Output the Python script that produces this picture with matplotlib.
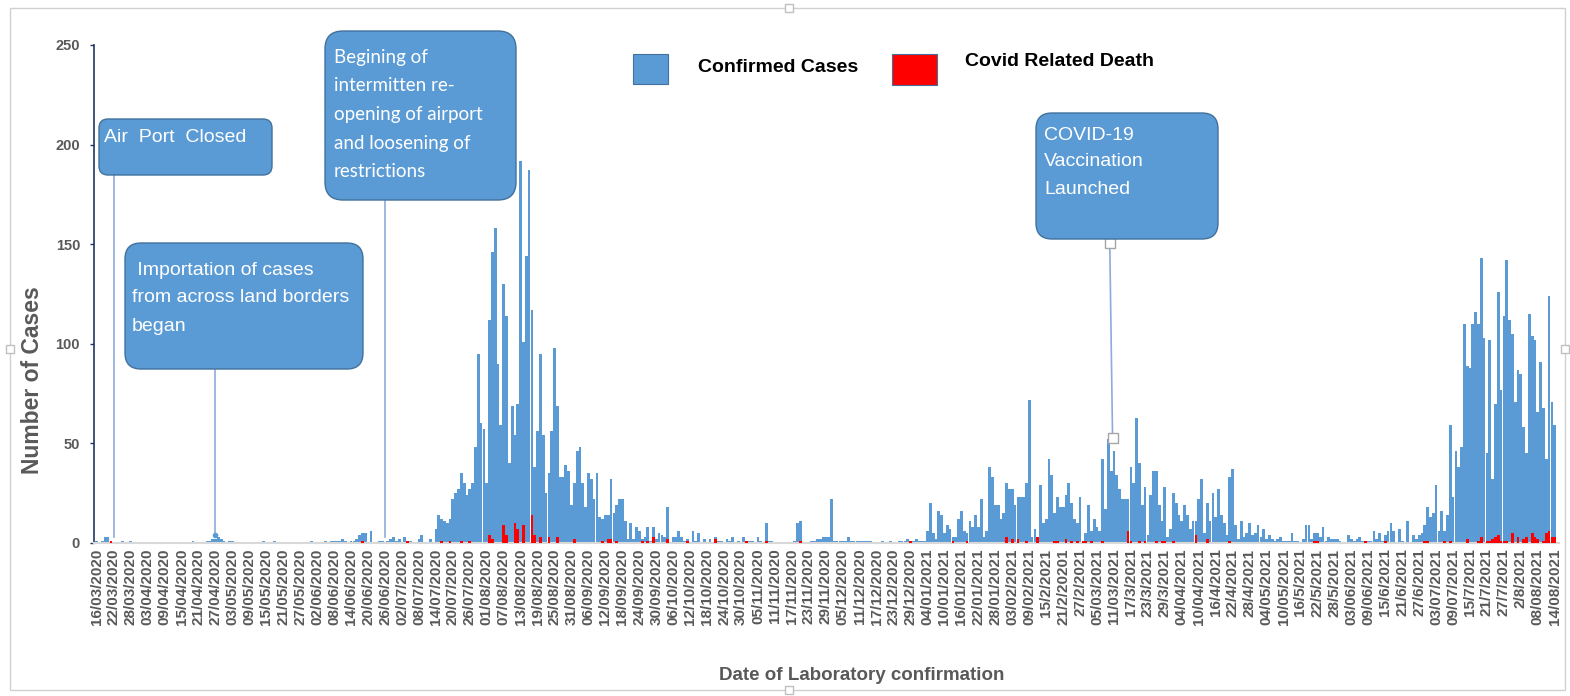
# plot.py
# Daily confirmed COVID-19 cases and related deaths, 16/03/2020 - 14/08/2021

import matplotlib.pyplot as plt
from matplotlib.patches import FancyBboxPatch, Rectangle
import numpy as np

# one label every 6 days, written as in the source chart
tick_labels = [
    '16/03/2020', '22/03/2020', '28/03/2020', '03/04/2020', '09/04/2020', '15/04/2020',
    '21/04/2020', '27/04/2020', '03/05/2020', '09/05/2020', '15/05/2020', '21/05/2020',
    '27/05/2020', '02/06/2020', '08/06/2020', '14/06/2020', '20/06/2020', '26/06/2020',
    '02/07/2020', '08/07/2020', '14/07/2020', '20/07/2020', '26/07/2020', '01/08/2020',
    '07/08/2020', '13/08/2020', '19/08/2020', '25/08/2020', '31/08/2020', '06/09/2020',
    '12/09/2020', '18/09/2020', '24/09/2020', '30/09/2020', '06/10/2020', '12/10/2020',
    '18/10/2020', '24/10/2020', '30/10/2020', '05/11/2020', '11/11/2020', '17/11/2020',
    '23/11/2020', '29/11/2020', '05/12/2020', '11/12/2020', '17/12/2020', '23/12/2020',
    '29/12/2020', '04/01/2021', '10/01/2021', '16/01/2021', '22/01/2021', '28/01/2021',
    '03/02/2021', '09/02/2021', '15/2/2021', '21/2/20201', '27/2/2021', '05/03/2021',
    '11/03/2021', '17/3/2021', '23/3/2021', '29/3/2021', '04/04/2021', '10/04/2021',
    '16/4/2021', '22/4/2021', '28/4/2021', '04/05/2021', '10/05/2021', '16/5/2021',
    '22/5/2021', '28/5/2021', '03/06/2021', '09/06/2021', '15/6/2021', '21/6/2021',
    '27/6/2021', '03/07/2021', '09/07/2021', '15/7/2021', '21/7/2021', '27/7/2021',
    '2/8/2021', '08/08/2021', '14/08/2021',
]

# confirmed cases per day (day 0 = 16/03/2020)
cases = [
    1, 0, 1, 3, 3, 1, 0, 0, 0, 1, 0, 0, 1, 0, 0, 0, 0, 0, 0, 0,
    0, 0, 0, 0, 0, 0, 0, 0, 0, 0, 0, 0, 0, 0, 1, 0, 0, 0, 0, 1,
    1, 2, 2, 3, 2, 1, 0, 1, 1, 0, 0, 0, 0, 0, 0, 0, 0, 0, 0, 1,
    0, 0, 0, 1, 0, 0, 0, 0, 0, 0, 0, 0, 0, 0, 0, 0, 1, 0, 0, 0,
    0, 1, 0, 1, 1, 1, 1, 2, 1, 0, 1, 1, 2, 4, 5, 5, 0, 6, 0, 0,
    1, 1, 0, 1, 2, 3, 1, 2, 0, 3, 0, 1, 0, 0, 2, 4, 0, 0, 2, 0,
    7, 14, 12, 11, 10, 12, 22, 25, 27, 35, 30, 24, 27, 30, 48, 95, 60, 57, 30, 112,
    146, 158, 90, 59, 130, 114, 40, 69, 54, 70, 192, 101, 144, 187, 117, 38, 56, 95, 54, 25,
    35, 56, 98, 69, 33, 33, 39, 36, 19, 30, 46, 48, 30, 18, 35, 32, 22, 35, 13, 12,
    14, 14, 32, 15, 19, 22, 22, 11, 2, 10, 2, 8, 6, 2, 3, 8, 1, 8, 2, 5,
    4, 3, 18, 0, 3, 3, 6, 3, 1, 2, 0, 6, 1, 5, 0, 2, 0, 2, 0, 3,
    1, 1, 0, 2, 1, 3, 0, 1, 0, 3, 1, 1, 1, 0, 3, 1, 0, 10, 1, 1,
    0, 0, 0, 0, 0, 0, 0, 1, 10, 11, 0, 0, 0, 1, 1, 2, 2, 3, 3, 3,
    22, 1, 1, 1, 1, 1, 3, 1, 1, 1, 1, 1, 1, 1, 1, 0, 0, 0, 1, 0,
    0, 1, 0, 0, 1, 1, 1, 2, 1, 1, 2, 1, 1, 1, 6, 20, 5, 2, 16, 14,
    5, 9, 7, 3, 3, 12, 16, 6, 5, 11, 8, 14, 8, 22, 3, 6, 38, 33, 19, 19,
    12, 15, 30, 27, 27, 19, 23, 23, 23, 30, 72, 3, 7, 2, 29, 10, 12, 42, 34, 15,
    23, 18, 18, 24, 30, 20, 12, 10, 23, 0, 5, 19, 6, 12, 8, 6, 42, 17, 52, 36,
    46, 34, 27, 22, 22, 22, 38, 30, 63, 40, 19, 28, 4, 24, 36, 36, 19, 11, 28, 3,
    7, 25, 20, 14, 11, 19, 14, 7, 11, 11, 22, 32, 5, 20, 11, 25, 13, 27, 14, 10,
    4, 33, 37, 9, 2, 11, 3, 5, 10, 4, 5, 9, 3, 7, 2, 4, 2, 1, 2, 3,
    1, 1, 1, 5, 1, 1, 0, 2, 9, 9, 2, 5, 5, 3, 8, 1, 3, 2, 2, 2,
    1, 0, 0, 4, 2, 1, 2, 3, 1, 0, 1, 1, 6, 2, 5, 1, 4, 6, 10, 6,
    0, 7, 1, 0, 11, 0, 4, 2, 4, 5, 9, 18, 13, 15, 29, 6, 16, 6, 14, 59,
    23, 46, 38, 48, 110, 89, 88, 110, 116, 110, 143, 103, 45, 102, 32, 70, 126, 77, 114, 142,
    112, 105, 71, 87, 85, 58, 45, 115, 104, 102, 66, 91, 68, 42, 124, 71, 59,
]

# covid related deaths: day number and count (all other days are 0)
death_day = [
    5, 94, 110, 122, 125, 129, 132, 139, 140, 144, 145, 148, 149, 151, 154, 155, 157,
    160, 163, 169, 179, 181, 182, 184, 193, 195, 197, 202, 209, 219, 230, 237, 249,
    288, 303, 308, 322, 324, 326, 329, 333, 339, 340, 343, 345, 347, 349, 350, 352,
    356, 365, 366, 369, 371, 375, 377, 378, 381, 389, 393, 401, 431, 432, 449, 456,
    470, 471, 477, 479, 485, 489, 490, 492, 493, 494, 495, 496, 497, 498, 499, 501,
    503, 505, 506, 508, 509, 510, 512, 513, 514, 515, 516,
]
death_count = [
    1, 1, 1, 1, 1, 1, 1, 4, 2, 9, 4, 10, 7, 9, 14, 4, 3,
    3, 3, 2, 1, 2, 2, 1, 1, 1, 3, 2, 1, 2, 1, 1, 1,
    1, 1, 1, 3, 2, 2, 1, 3, 1, 1, 2, 1, 1, 1, 1, 1,
    1, 6, 1, 1, 1, 1, 1, 1, 1, 4, 2, 1, 1, 1, 1, 1,
    1, 1, 1, 1, 2, 1, 3, 1, 1, 2, 3, 4, 1, 1, 1, 5,
    3, 2, 3, 5, 3, 2, 1, 5, 6, 3, 3,
]

days = np.arange(len(cases))
deaths = np.zeros(len(cases))
deaths[death_day] = death_count

W, H = 1570, 696
BLUE = '#5B9BD5'
GREY = '#595959'
FONT = 'Liberation Sans'


def fx(px):
    return px / W


def fy(py):
    return 1 - py / H


fig = plt.figure(figsize=(W / 100, H / 100), dpi=100)
ax = fig.add_axes([fx(94), fy(543), fx(1559) - fx(94), fy(45) - fy(543)])

ax.bar(days, cases, width=0.97, color=BLUE, linewidth=0, zorder=2)
ax.bar(days, deaths, width=0.97, color='#FF0000', linewidth=0, zorder=3)

ax.set_xlim(-1, 517.5)
ax.set_ylim(0, 250)
ax.set_xticks(np.arange(0, len(cases), 6))
ax.set_xticklabels(tick_labels, rotation=90, fontsize=11, fontweight='bold',
                   color=GREY, family=FONT)
ax.set_yticks(np.arange(0, 251, 50))
ax.set_yticklabels([str(v) for v in range(0, 251, 50)], fontsize=10.5,
                   fontweight='bold', color=GREY, family=FONT)
ax.tick_params(axis='x', length=0, pad=4)
ax.tick_params(axis='y', length=3, width=1, color='#203864', pad=7, direction='out')

for side in ['top', 'right']:
    ax.spines[side].set_visible(False)
ax.spines['left'].set_color('#203864')
ax.spines['left'].set_linewidth(1.2)
ax.spines['bottom'].set_color('#D9D9D9')
ax.spines['bottom'].set_linewidth(1.5)

fig.text(fx(33), fy(380), 'Number of Cases', rotation=90, ha='center', va='center',
         fontsize=16.5, fontweight='bold', color=GREY, family=FONT)
fig.text(fx(862), fy(676), 'Date of Laboratory confirmation', ha='center', va='center',
         fontsize=13.5, fontweight='bold', color=GREY, family=FONT)

# legend drawn by hand, like the source
fig.patches.append(Rectangle((fx(633), fy(84)), fx(668) - fx(633), fy(54) - fy(84),
                             transform=fig.transFigure, fc=BLUE, ec='#41719C', lw=0.8))
fig.patches.append(Rectangle((fx(892), fy(85)), fx(937) - fx(892), fy(54) - fy(85),
                             transform=fig.transFigure, fc='#FF0000', ec='#41719C', lw=0.8))
fig.text(fx(698), fy(68), 'Confirmed Cases', ha='left', va='center', fontsize=14,
         fontweight='bold', color='black', family=FONT)
fig.text(fx(965), fy(62), 'Covid Related Death', ha='left', va='center', fontsize=14,
         fontweight='bold', color='black', family=FONT)


def callout(x0, y0, x1, y1, r, lines, tx, ty, step, size=14, family=FONT):
    box = FancyBboxPatch((fx(x0), fy(y1)), fx(x1) - fx(x0), fy(y0) - fy(y1),
                         boxstyle='round,pad=0,rounding_size=%f' % (r / W),
                         mutation_aspect=W / H, transform=fig.transFigure,
                         fc=BLUE, ec='#41719C', lw=1, zorder=5)
    fig.patches.append(box)
    for k, line in enumerate(lines):
        fig.text(fx(tx), fy(ty + k * step), line, ha='left', va='center', fontsize=size,
                 color='white', family=family, zorder=6)


callout(99, 119, 272, 175, 9, ['Air  Port  Closed'], 104, 138, 0)
callout(125, 243, 363, 369, 16, [' Importation of cases', 'from across land borders', 'began'],
        132, 270, 28)
callout(325, 31, 516, 200, 18,
        ['Begining of', 'intermitten re-', 'opening of airport', 'and loosening of', 'restrictions'],
        334, 57, 28.7, size=13.5, family='Lato')
callout(1036, 113, 1218, 239, 16, ['COVID-19', 'Vaccination', 'Launched'], 1044, 135, 27)

# leader lines from the call-outs down to the event dates
ax.plot([6, 6], [185, 3], color='#8FAADC', lw=1.2, zorder=4, clip_on=False)
ax.plot([42, 42], [87, 4], color='#8FAADC', lw=1.2, zorder=4, clip_on=False)
ax.plot([42], [4], 'o', ms=3, color='#5B9BD5', zorder=4)
ax.plot([102, 102], [172, 3], color='#8FAADC', lw=1.2, zorder=4, clip_on=False)
ax.plot([358.5, 359.5], [150.5, 52.5], color='#8FAADC', lw=1.2, zorder=4)
ax.plot([358.5, 359.5], [150.5, 52.5], 's', ms=7, mfc='white', mec='#A6A6A6', mew=1,
        zorder=6, clip_on=False)

# outer frame of the chart object
fig.patches.append(Rectangle((fx(10), fy(690)), fx(1565) - fx(10), fy(8) - fy(690),
                             transform=fig.transFigure, fill=False, ec='#D0D0D0', lw=1))
for hx, hy in [(789, 8), (10, 349), (1565, 349), (789, 690)]:
    fig.patches.append(Rectangle((fx(hx - 4), fy(hy + 4)), fx(8), 8 / H,
                                 transform=fig.transFigure, fc='white', ec='#BFBFBF', lw=1))

fig.savefig('out.png', dpi=100)
